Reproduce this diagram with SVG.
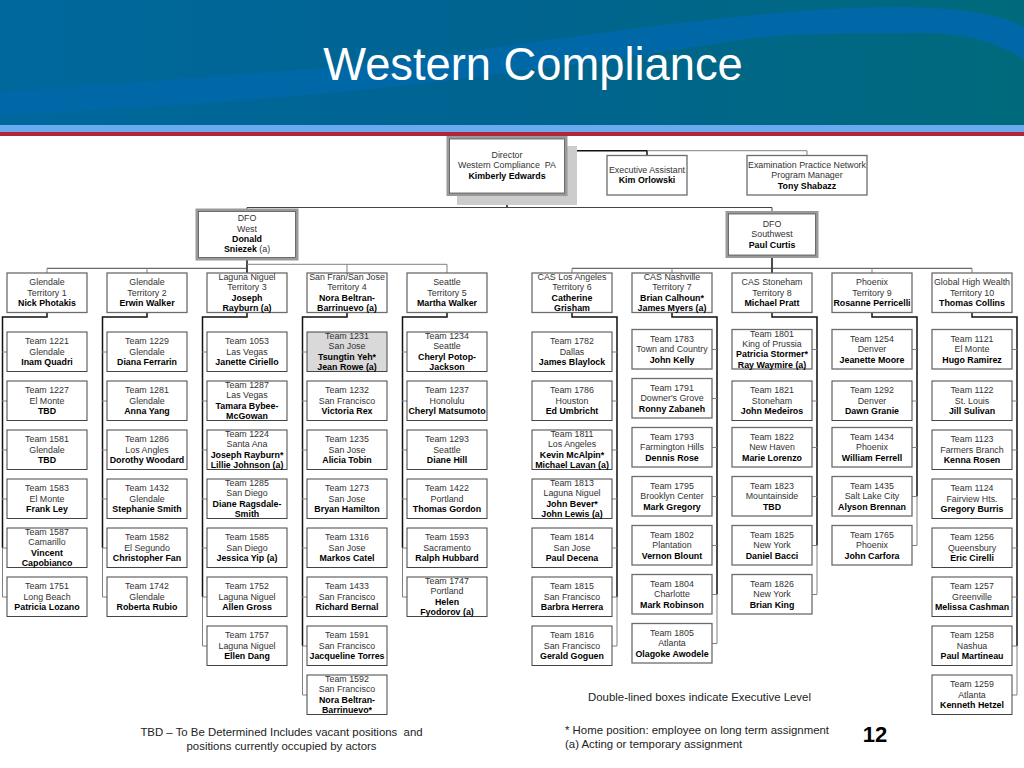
<svg xmlns="http://www.w3.org/2000/svg" width="1024" height="768" viewBox="0 0 1024 768">
<style>
text{font-family:"Liberation Sans",Arial,sans-serif;text-anchor:middle;white-space:pre}
.n{font-size:8.85px;fill:#333}
.b{font-size:8.85px;fill:#000;font-weight:bold}
.r{font-size:8.85px;fill:#333;font-weight:normal}
.l{font-size:11.4px;fill:#222}
rect.d{fill:#fff;stroke:#444;stroke-width:1}
rect.g{fill:#fff;stroke:#6c6c6c;stroke-width:1.3}
rect.s{fill:#d9d9d9;stroke:#444;stroke-width:1}
rect.o{fill:#fff;stroke:#999;stroke-width:3}
rect.i{fill:none;stroke:#444;stroke-width:.7}
path{fill:none}
.k{stroke:#111;stroke-width:1.5}
.h{stroke:#444;stroke-width:1}
.y{stroke:#808080;stroke-width:1}
</style>
<defs>
<linearGradient id="bg" x1="0" x2="1" y1="0" y2="0"><stop offset="0" stop-color="#00689d"/><stop offset=".5" stop-color="#006490"/><stop offset="1" stop-color="#006a7c"/></linearGradient>
</defs>
<g id="header">
<rect x="0" y="0" width="1024" height="125" fill="url(#bg)"/>
<path style="fill:#0068a6" d="M0 92C130 84 260 72 392 63C560 38 720 14 850 8C920 5 990 8 1024 27L1024 60C1000 42 960 32 915 33C840 34 780 32 720 43C600 62 490 75 392 87C260 100 120 110 0 115Z"/>
<rect x="0" y="125" width="1024" height="7" fill="#6aaaee"/>
<rect x="0" y="132" width="1024" height="4" fill="#b2243c"/>
<text x="533" y="80" style="font-size:45.3px;fill:#fff">Western Compliance</text>
</g>
<g id="connectors">
<path class="k" d="M567 165H572V150.7H647V155.7"/>
<path class="y" d="M647 150.7H807V155.7"/>
<path class="k" d="M507 195V207.5"/>
<path class="h" d="M247 209V207.5H772V212"/>
<path class="k" d="M247 259V273M772 257V273"/>
<path class="h" d="M47 268.3H247M572 268.3H972"/>
<path class="y" d="M47 268.3V273M147 268.3V273M247 264.3H447V273M347 264.3V273M572 268.3V273M672 268.3V273M872 268.3V273M972 268.3V273"/>
<path class="k" d="M47 313V317H2.5V548M147 313V317H102.5V548M247 313V317H202.5V597M347 313V317H302.5V646M447 313V317H402.5V548M572 313V317H617V597M672 313V317H717V594.5M772 313V317H817V545.5M872 313V317H917V496.5M972 313V317H1017V646"/>
<path class="y" d="M2.5 548V597H7M102.5 548V597H107M202.5 597V646H207M302.5 646V695H307M402.5 548V597H407M617 597V646H612M717 594.5V643.5H712M817 545.5V594.5H812M917 496.5V545.5H912M1017 646V695H1012"/>
<path class="y" d="M2 352H7M2 401H7M2 450H7M2 499H7M2 548H7M102 352H107M102 401H107M102 450H107M102 499H107M102 548H107M202 352H207M202 401H207M202 450H207M202 499H207M202 548H207M202 597H207M302 352H307M302 401H307M302 450H307M302 499H307M302 548H307M302 597H307M302 646H307M402 352H407M402 401H407M402 450H407M402 499H407M402 548H407"/>
<path class="y" d="M612 352H617M612 401H617M612 450H617M612 499H617M612 548H617M612 597H617M712 349.5H717M712 398.5H717M712 447.5H717M712 496.5H717M712 545.5H717M712 594.5H717M812 349.5H817M812 401H817M812 447.5H817M812 496.5H817M812 545.5H817M912 349.5H917M912 401H917M912 447.5H917M912 496.5H917M1012 349.5H1017M1012 401H1017M1012 450H1017M1012 499H1017M1012 548H1017M1012 597H1017M1012 646H1017"/>
</g>
<g id="director">
<rect x="457" y="146" width="120" height="59" fill="#ccc"/>
<rect class="o" x="448" y="137.500" width="118" height="57"/><rect class="i" x="449.500" y="139" width="115" height="54"/>
<text class="n" x="507" y="157.700">Director</text><text class="n" x="507" y="168.300">Western Compliance  PA</text><text class="b" x="507" y="178.700">Kimberly Edwards</text>
</g>
<g id="exec-assistant" transform="translate(607,155.500)"><rect class="g" width="80" height="39.500"/><text class="n" x="40" y="17">Executive Assistant</text><text class="b" x="40" y="27.500">Kim Orlowski</text></g>
<g id="exam-network" transform="translate(747,155.500)"><rect class="g" width="120" height="39.500"/><text class="n" x="60" y="12">Examination Practice Network</text><text class="n" x="60" y="22.500">Program Manager</text><text class="b" x="60" y="33">Tony Shabazz</text></g>
<g id="dfo-west" transform="translate(197,210)"><rect class="o" width="100" height="49"/><rect class="i" x="1.500" y="1.500" width="97" height="46"/><text class="n" x="50" y="11.300">DFO</text><text class="n" x="50" y="21.700">West</text><text class="b" x="50" y="32">Donald</text><text class="b" x="50" y="42.400">Sniezek <tspan class="r">(a)</tspan></text></g>
<g id="dfo-southwest" transform="translate(727,212.500)"><rect class="o" width="90" height="44"/><rect class="i" x="1.500" y="1.500" width="87" height="41"/><text class="n" x="45" y="14.200">DFO</text><text class="n" x="45" y="24.500">Southwest</text><text class="b" x="45" y="35">Paul Curtis</text></g>

<g id="territory-1" transform="translate(7,273)"><rect class="g" width="80" height="39.500"/><text class="n" x="40" y="12.300">Glendale</text><text class="n" x="40" y="22.700">Territory 1</text><text class="b" x="40" y="33.100">Nick Photakis</text></g>
<g id="territory-2" transform="translate(107,273)"><rect class="g" width="80" height="39.500"/><text class="n" x="40" y="12.300">Glendale</text><text class="n" x="40" y="22.700">Territory 2</text><text class="b" x="40" y="33.100">Erwin Walker</text></g>
<g id="territory-3" transform="translate(207,273)"><rect class="g" width="80" height="39.500"/><text class="n" x="40" y="7">Laguna Niguel</text><text class="n" x="40" y="17.400">Territory 3</text><text class="b" x="40" y="27.800">Joseph</text><text class="b" x="40" y="38.200">Rayburn (a)</text></g>
<g id="territory-4" transform="translate(307,273)"><rect class="g" width="80" height="39.500"/><text class="n" x="40" y="7">San Fran/San Jose</text><text class="n" x="40" y="17.400">Territory 4</text><text class="b" x="40" y="27.800">Nora Beltran-</text><text class="b" x="40" y="38.200">Barrinuevo (a)</text></g>
<g id="territory-5" transform="translate(407,273)"><rect class="g" width="80" height="39.500"/><text class="n" x="40" y="12.300">Seattle</text><text class="n" x="40" y="22.700">Territory 5</text><text class="b" x="40" y="33.100">Martha Walker</text></g>
<g id="territory-6" transform="translate(532,273)"><rect class="g" width="80" height="39.500"/><text class="n" x="40" y="7">CAS Los Angeles</text><text class="n" x="40" y="17.400">Territory 6</text><text class="b" x="40" y="27.800">Catherine</text><text class="b" x="40" y="38.200">Grisham</text></g>
<g id="territory-7" transform="translate(632,273)"><rect class="g" width="80" height="39.500"/><text class="n" x="40" y="7">CAS Nashville</text><text class="n" x="40" y="17.400">Territory 7</text><text class="b" x="40" y="27.800">Brian Calhoun*</text><text class="b" x="40" y="38.200">James Myers (a)</text></g>
<g id="territory-8" transform="translate(732,273)"><rect class="g" width="80" height="39.500"/><text class="n" x="40" y="12.300">CAS Stoneham</text><text class="n" x="40" y="22.700">Territory 8</text><text class="b" x="40" y="33.100">Michael Pratt</text></g>
<g id="territory-9" transform="translate(832,273)"><rect class="g" width="80" height="39.500"/><text class="n" x="40" y="12.300">Phoenix</text><text class="n" x="40" y="22.700">Territory 9</text><text class="b" x="40" y="33.100">Rosanne Perricelli</text></g>
<g id="territory-10" transform="translate(932,273)"><rect class="g" width="80" height="39.500"/><text class="n" x="40" y="12.300">Global High Wealth</text><text class="n" x="40" y="22.700">Territory 10</text><text class="b" x="40" y="33.100">Thomas Collins</text></g>

<g id="team-1221" transform="translate(7,332)"><rect class="d" width="80" height="39.500"/><text class="n" x="40" y="12.300">Team 1221</text><text class="n" x="40" y="22.700">Glendale</text><text class="b" x="40" y="33.100">Inam Quadri</text></g>
<g id="team-1227" transform="translate(7,381)"><rect class="d" width="80" height="39.500"/><text class="n" x="40" y="12.300">Team 1227</text><text class="n" x="40" y="22.700">El Monte</text><text class="b" x="40" y="33.100">TBD</text></g>
<g id="team-1581" transform="translate(7,430)"><rect class="d" width="80" height="39.500"/><text class="n" x="40" y="12.300">Team 1581</text><text class="n" x="40" y="22.700">Glendale</text><text class="b" x="40" y="33.100">TBD</text></g>
<g id="team-1583" transform="translate(7,479)"><rect class="d" width="80" height="39.500"/><text class="n" x="40" y="12.300">Team 1583</text><text class="n" x="40" y="22.700">El Monte</text><text class="b" x="40" y="33.100">Frank Ley</text></g>
<g id="team-1587" transform="translate(7,528)"><rect class="d" width="80" height="39.500"/><text class="n" x="40" y="7">Team 1587</text><text class="n" x="40" y="17.400">Camarillo</text><text class="b" x="40" y="27.800">Vincent</text><text class="b" x="40" y="38.200">Capobianco</text></g>
<g id="team-1751" transform="translate(7,577)"><rect class="d" width="80" height="39.500"/><text class="n" x="40" y="12.300">Team 1751</text><text class="n" x="40" y="22.700">Long Beach</text><text class="b" x="40" y="33.100">Patricia Lozano</text></g>

<g id="team-1229" transform="translate(107,332)"><rect class="d" width="80" height="39.500"/><text class="n" x="40" y="12.300">Team 1229</text><text class="n" x="40" y="22.700">Glendale</text><text class="b" x="40" y="33.100">Diana Ferrarin</text></g>
<g id="team-1281" transform="translate(107,381)"><rect class="d" width="80" height="39.500"/><text class="n" x="40" y="12.300">Team 1281</text><text class="n" x="40" y="22.700">Glendale</text><text class="b" x="40" y="33.100">Anna Yang</text></g>
<g id="team-1286" transform="translate(107,430)"><rect class="d" width="80" height="39.500"/><text class="n" x="40" y="12.300">Team 1286</text><text class="n" x="40" y="22.700">Los Angles</text><text class="b" x="40" y="33.100">Dorothy Woodard</text></g>
<g id="team-1432" transform="translate(107,479)"><rect class="d" width="80" height="39.500"/><text class="n" x="40" y="12.300">Team 1432</text><text class="n" x="40" y="22.700">Glendale</text><text class="b" x="40" y="33.100">Stephanie Smith</text></g>
<g id="team-1582" transform="translate(107,528)"><rect class="d" width="80" height="39.500"/><text class="n" x="40" y="12.300">Team 1582</text><text class="n" x="40" y="22.700">El Segundo</text><text class="b" x="40" y="33.100">Christopher Fan</text></g>
<g id="team-1742" transform="translate(107,577)"><rect class="d" width="80" height="39.500"/><text class="n" x="40" y="12.300">Team 1742</text><text class="n" x="40" y="22.700">Glendale</text><text class="b" x="40" y="33.100">Roberta Rubio</text></g>

<g id="team-1053" transform="translate(207,332)"><rect class="d" width="80" height="39.500"/><text class="n" x="40" y="12.300">Team 1053</text><text class="n" x="40" y="22.700">Las Vegas</text><text class="b" x="40" y="33.100">Janette Ciriello</text></g>
<g id="team-1287" transform="translate(207,381)"><rect class="d" width="80" height="39.500"/><text class="n" x="40" y="7">Team 1287</text><text class="n" x="40" y="17.400">Las Vegas</text><text class="b" x="40" y="27.800">Tamara Bybee-</text><text class="b" x="40" y="38.200">McGowan</text></g>
<g id="team-1224" transform="translate(207,430)"><rect class="d" width="80" height="39.500"/><text class="n" x="40" y="7">Team 1224</text><text class="n" x="40" y="17.400">Santa Ana</text><text class="b" x="40" y="27.800">Joseph Rayburn*</text><text class="b" x="40" y="38.200">Lillie Johnson (a)</text></g>
<g id="team-1285" transform="translate(207,479)"><rect class="d" width="80" height="39.500"/><text class="n" x="40" y="7">Team 1285</text><text class="n" x="40" y="17.400">San Diego</text><text class="b" x="40" y="27.800">Diane Ragsdale-</text><text class="b" x="40" y="38.200">Smith</text></g>
<g id="team-1585" transform="translate(207,528)"><rect class="d" width="80" height="39.500"/><text class="n" x="40" y="12.300">Team 1585</text><text class="n" x="40" y="22.700">San Diego</text><text class="b" x="40" y="33.100">Jessica Yip (a)</text></g>
<g id="team-1752" transform="translate(207,577)"><rect class="d" width="80" height="39.500"/><text class="n" x="40" y="12.300">Team 1752</text><text class="n" x="40" y="22.700">Laguna Niguel</text><text class="b" x="40" y="33.100">Allen Gross</text></g>
<g id="team-1757" transform="translate(207,626)"><rect class="d" width="80" height="39.500"/><text class="n" x="40" y="12.300">Team 1757</text><text class="n" x="40" y="22.700">Laguna Niguel</text><text class="b" x="40" y="33.100">Ellen Dang</text></g>

<g id="team-1231" transform="translate(307,332)"><rect class="s" width="80" height="39.500"/><text class="n" x="40" y="7">Team 1231</text><text class="n" x="40" y="17.400">San Jose</text><text class="b" x="40" y="27.800">Tsungtin Yeh*</text><text class="b" x="40" y="38.200">Jean Rowe (a)</text></g>
<g id="team-1232" transform="translate(307,381)"><rect class="d" width="80" height="39.500"/><text class="n" x="40" y="12.300">Team 1232</text><text class="n" x="40" y="22.700">San Francisco</text><text class="b" x="40" y="33.100">Victoria Rex</text></g>
<g id="team-1235" transform="translate(307,430)"><rect class="d" width="80" height="39.500"/><text class="n" x="40" y="12.300">Team 1235</text><text class="n" x="40" y="22.700">San Jose</text><text class="b" x="40" y="33.100">Alicia Tobin</text></g>
<g id="team-1273" transform="translate(307,479)"><rect class="d" width="80" height="39.500"/><text class="n" x="40" y="12.300">Team 1273</text><text class="n" x="40" y="22.700">San Jose</text><text class="b" x="40" y="33.100">Bryan Hamilton</text></g>
<g id="team-1316" transform="translate(307,528)"><rect class="d" width="80" height="39.500"/><text class="n" x="40" y="12.300">Team 1316</text><text class="n" x="40" y="22.700">San Jose</text><text class="b" x="40" y="33.100">Markos Catel</text></g>
<g id="team-1433" transform="translate(307,577)"><rect class="d" width="80" height="39.500"/><text class="n" x="40" y="12.300">Team 1433</text><text class="n" x="40" y="22.700">San Francisco</text><text class="b" x="40" y="33.100">Richard Bernal</text></g>
<g id="team-1591" transform="translate(307,626)"><rect class="d" width="80" height="39.500"/><text class="n" x="40" y="12.300">Team 1591</text><text class="n" x="40" y="22.700">San Francisco</text><text class="b" x="40" y="33.100">Jacqueline Torres</text></g>
<g id="team-1592" transform="translate(307,675)"><rect class="d" width="80" height="39.500"/><text class="n" x="40" y="7">Team 1592</text><text class="n" x="40" y="17.400">San Francisco</text><text class="b" x="40" y="27.800">Nora Beltran-</text><text class="b" x="40" y="38.200">Barrinuevo*</text></g>

<g id="team-1234" transform="translate(407,332)"><rect class="d" width="80" height="39.500"/><text class="n" x="40" y="7">Team 1234</text><text class="n" x="40" y="17.400">Seattle</text><text class="b" x="40" y="27.800">Cheryl Potop-</text><text class="b" x="40" y="38.200">Jackson</text></g>
<g id="team-1237" transform="translate(407,381)"><rect class="d" width="80" height="39.500"/><text class="n" x="40" y="12.300">Team 1237</text><text class="n" x="40" y="22.700">Honolulu</text><text class="b" x="40" y="33.100">Cheryl Matsumoto</text></g>
<g id="team-1293" transform="translate(407,430)"><rect class="d" width="80" height="39.500"/><text class="n" x="40" y="12.300">Team 1293</text><text class="n" x="40" y="22.700">Seattle</text><text class="b" x="40" y="33.100">Diane Hill</text></g>
<g id="team-1422" transform="translate(407,479)"><rect class="d" width="80" height="39.500"/><text class="n" x="40" y="12.300">Team 1422</text><text class="n" x="40" y="22.700">Portland</text><text class="b" x="40" y="33.100">Thomas Gordon</text></g>
<g id="team-1593" transform="translate(407,528)"><rect class="d" width="80" height="39.500"/><text class="n" x="40" y="12.300">Team 1593</text><text class="n" x="40" y="22.700">Sacramento</text><text class="b" x="40" y="33.100">Ralph Hubbard</text></g>
<g id="team-1747" transform="translate(407,577)"><rect class="d" width="80" height="39.500"/><text class="n" x="40" y="7">Team 1747</text><text class="n" x="40" y="17.400">Portland</text><text class="b" x="40" y="27.800">Helen</text><text class="b" x="40" y="38.200">Fyodorov (a)</text></g>

<g id="team-1782" transform="translate(532,332)"><rect class="d" width="80" height="39.500"/><text class="n" x="40" y="12.300">Team 1782</text><text class="n" x="40" y="22.700">Dallas</text><text class="b" x="40" y="33.100">James Blaylock</text></g>
<g id="team-1786" transform="translate(532,381)"><rect class="d" width="80" height="39.500"/><text class="n" x="40" y="12.300">Team 1786</text><text class="n" x="40" y="22.700">Houston</text><text class="b" x="40" y="33.100">Ed Umbricht</text></g>
<g id="team-1811" transform="translate(532,430)"><rect class="d" width="80" height="39.500"/><text class="n" x="40" y="7">Team 1811</text><text class="n" x="40" y="17.400">Los Angeles</text><text class="b" x="40" y="27.800">Kevin McAlpin*</text><text class="b" x="40" y="38.200">Michael Lavan (a)</text></g>
<g id="team-1813" transform="translate(532,479)"><rect class="d" width="80" height="39.500"/><text class="n" x="40" y="7">Team 1813</text><text class="n" x="40" y="17.400">Laguna Niguel</text><text class="b" x="40" y="27.800">John Bever*</text><text class="b" x="40" y="38.200">John Lewis (a)</text></g>
<g id="team-1814" transform="translate(532,528)"><rect class="d" width="80" height="39.500"/><text class="n" x="40" y="12.300">Team 1814</text><text class="n" x="40" y="22.700">San Jose</text><text class="b" x="40" y="33.100">Paul Decena</text></g>
<g id="team-1815" transform="translate(532,577)"><rect class="d" width="80" height="39.500"/><text class="n" x="40" y="12.300">Team 1815</text><text class="n" x="40" y="22.700">San Francisco</text><text class="b" x="40" y="33.100">Barbra Herrera</text></g>
<g id="team-1816" transform="translate(532,626)"><rect class="d" width="80" height="39.500"/><text class="n" x="40" y="12.300">Team 1816</text><text class="n" x="40" y="22.700">San Francisco</text><text class="b" x="40" y="33.100">Gerald Goguen</text></g>

<g id="team-1783" transform="translate(632,329.500)"><rect class="g" width="80" height="39.500"/><text class="n" x="40" y="12.300">Team 1783</text><text class="n" x="40" y="22.700">Town and Country</text><text class="b" x="40" y="33.100">John Kelly</text></g>
<g id="team-1791" transform="translate(632,378.500)"><rect class="g" width="80" height="39.500"/><text class="n" x="40" y="12.300">Team 1791</text><text class="n" x="40" y="22.700">Downer's Grove</text><text class="b" x="40" y="33.100">Ronny Zabaneh</text></g>
<g id="team-1793" transform="translate(632,427.500)"><rect class="g" width="80" height="39.500"/><text class="n" x="40" y="12.300">Team 1793</text><text class="n" x="40" y="22.700">Farmington Hills</text><text class="b" x="40" y="33.100">Dennis Rose</text></g>
<g id="team-1795" transform="translate(632,476.500)"><rect class="g" width="80" height="39.500"/><text class="n" x="40" y="12.300">Team 1795</text><text class="n" x="40" y="22.700">Brooklyn Center</text><text class="b" x="40" y="33.100">Mark Gregory</text></g>
<g id="team-1802" transform="translate(632,525.500)"><rect class="g" width="80" height="39.500"/><text class="n" x="40" y="12.300">Team 1802</text><text class="n" x="40" y="22.700">Plantation</text><text class="b" x="40" y="33.100">Vernon Blount</text></g>
<g id="team-1804" transform="translate(632,574.500)"><rect class="g" width="80" height="39.500"/><text class="n" x="40" y="12.300">Team 1804</text><text class="n" x="40" y="22.700">Charlotte</text><text class="b" x="40" y="33.100">Mark Robinson</text></g>
<g id="team-1805" transform="translate(632,623.500)"><rect class="g" width="80" height="39.500"/><text class="n" x="40" y="12.300">Team 1805</text><text class="n" x="40" y="22.700">Atlanta</text><text class="b" x="40" y="33.100">Olagoke Awodele</text></g>

<g id="team-1801" transform="translate(732,329.500)"><rect class="g" width="80" height="39.500"/><text class="n" x="40" y="7">Team 1801</text><text class="n" x="40" y="17.400">King of Prussia</text><text class="b" x="40" y="27.800">Patricia Stormer*</text><text class="b" x="40" y="38.200">Ray Waymire (a)</text></g>
<g id="team-1821" transform="translate(732,381)"><rect class="d" width="80" height="39.500"/><text class="n" x="40" y="12.300">Team 1821</text><text class="n" x="40" y="22.700">Stoneham</text><text class="b" x="40" y="33.100">John Medeiros</text></g>
<g id="team-1822" transform="translate(732,427.500)"><rect class="g" width="80" height="39.500"/><text class="n" x="40" y="12.300">Team 1822</text><text class="n" x="40" y="22.700">New Haven</text><text class="b" x="40" y="33.100">Marie Lorenzo</text></g>
<g id="team-1823" transform="translate(732,476.500)"><rect class="g" width="80" height="39.500"/><text class="n" x="40" y="12.300">Team 1823</text><text class="n" x="40" y="22.700">Mountainside</text><text class="b" x="40" y="33.100">TBD</text></g>
<g id="team-1825" transform="translate(732,525.500)"><rect class="g" width="80" height="39.500"/><text class="n" x="40" y="12.300">Team 1825</text><text class="n" x="40" y="22.700">New York</text><text class="b" x="40" y="33.100">Daniel Bacci</text></g>
<g id="team-1826" transform="translate(732,574.500)"><rect class="g" width="80" height="39.500"/><text class="n" x="40" y="12.300">Team 1826</text><text class="n" x="40" y="22.700">New York</text><text class="b" x="40" y="33.100">Brian King</text></g>

<g id="team-1254" transform="translate(832,329.500)"><rect class="g" width="80" height="39.500"/><text class="n" x="40" y="12.300">Team 1254</text><text class="n" x="40" y="22.700">Denver</text><text class="b" x="40" y="33.100">Jeanette Moore</text></g>
<g id="team-1292" transform="translate(832,381)"><rect class="d" width="80" height="39.500"/><text class="n" x="40" y="12.300">Team 1292</text><text class="n" x="40" y="22.700">Denver</text><text class="b" x="40" y="33.100">Dawn Granie</text></g>
<g id="team-1434" transform="translate(832,427.500)"><rect class="g" width="80" height="39.500"/><text class="n" x="40" y="12.300">Team 1434</text><text class="n" x="40" y="22.700">Phoenix</text><text class="b" x="40" y="33.100">William Ferrell</text></g>
<g id="team-1435" transform="translate(832,476.500)"><rect class="g" width="80" height="39.500"/><text class="n" x="40" y="12.300">Team 1435</text><text class="n" x="40" y="22.700">Salt Lake City</text><text class="b" x="40" y="33.100">Alyson Brennan</text></g>
<g id="team-1765" transform="translate(832,525.500)"><rect class="g" width="80" height="39.500"/><text class="n" x="40" y="12.300">Team 1765</text><text class="n" x="40" y="22.700">Phoenix</text><text class="b" x="40" y="33.100">John Carfora</text></g>

<g id="team-1121" transform="translate(932,329.500)"><rect class="g" width="80" height="39.500"/><text class="n" x="40" y="12.300">Team 1121</text><text class="n" x="40" y="22.700">El Monte</text><text class="b" x="40" y="33.100">Hugo Ramirez</text></g>
<g id="team-1122" transform="translate(932,381)"><rect class="d" width="80" height="39.500"/><text class="n" x="40" y="12.300">Team 1122</text><text class="n" x="40" y="22.700">St. Louis</text><text class="b" x="40" y="33.100">Jill Sulivan</text></g>
<g id="team-1123" transform="translate(932,430)"><rect class="d" width="80" height="39.500"/><text class="n" x="40" y="12.300">Team 1123</text><text class="n" x="40" y="22.700">Farmers Branch</text><text class="b" x="40" y="33.100">Kenna Rosen</text></g>
<g id="team-1124" transform="translate(932,479)"><rect class="d" width="80" height="39.500"/><text class="n" x="40" y="12.300">Team 1124</text><text class="n" x="40" y="22.700">Fairview Hts.</text><text class="b" x="40" y="33.100">Gregory Burris</text></g>
<g id="team-1256" transform="translate(932,528)"><rect class="d" width="80" height="39.500"/><text class="n" x="40" y="12.300">Team 1256</text><text class="n" x="40" y="22.700">Queensbury</text><text class="b" x="40" y="33.100">Eric Cirelli</text></g>
<g id="team-1257" transform="translate(932,577)"><rect class="d" width="80" height="39.500"/><text class="n" x="40" y="12.300">Team 1257</text><text class="n" x="40" y="22.700">Greenville</text><text class="b" x="40" y="33.100">Melissa Cashman</text></g>
<g id="team-1258" transform="translate(932,626)"><rect class="d" width="80" height="39.500"/><text class="n" x="40" y="12.300">Team 1258</text><text class="n" x="40" y="22.700">Nashua</text><text class="b" x="40" y="33.100">Paul Martineau</text></g>
<g id="team-1259" transform="translate(932,675)"><rect class="d" width="80" height="39.500"/><text class="n" x="40" y="12.300">Team 1259</text><text class="n" x="40" y="22.700">Atlanta</text><text class="b" x="40" y="33.100">Kenneth Hetzel</text></g>

<g id="notes">
<text class="l" x="699.500" y="701">Double-lined boxes indicate Executive Level</text>
<text class="l" x="281.500" y="736">TBD – To Be Determined Includes vacant positions  and</text>
<text class="l" x="281.500" y="750">positions currently occupied by actors</text>
<text class="l" x="565" y="733.500" style="text-anchor:start">* Home position: employee on long term assignment</text>
<text class="l" x="565" y="747.500" style="text-anchor:start">(a) Acting or temporary assignment</text>
<text x="875" y="742" style="font-size:22px;font-weight:bold;fill:#000">12</text>
</g>
</svg>
